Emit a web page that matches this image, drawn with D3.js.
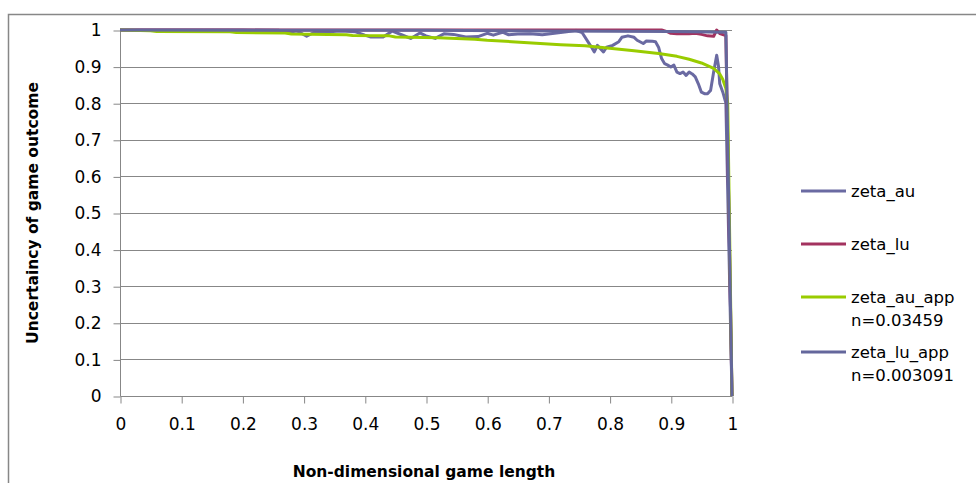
<!DOCTYPE html>
<html><head><meta charset="utf-8">
<script src="https://cdn.jsdelivr.net/npm/d3@7"></script>
<style>body{margin:0;background:#fff;overflow:hidden} text{font-family:"DejaVu Sans",sans-serif;fill:#000}</style>
</head><body><svg id="c" width="976" height="483"></svg>
<script>
const xTickValues = [0,0.1,0.2,0.3,0.4,0.5,0.6,0.7,0.8,0.9,1];
const xTickLabels = ["0","0.1","0.2","0.3","0.4","0.5","0.6","0.7","0.8","0.9","1"];
const yTickValues = [0,0.1,0.2,0.3,0.4,0.5,0.6,0.7,0.8,0.9,1];
const yTickLabels = ["0","0.1","0.2","0.3","0.4","0.5","0.6","0.7","0.8","0.9","1"];
const xTitle = "Non-dimensional game length";
const yTitle = "Uncertaincy of game outcome";

const seriesNames = ["zeta_au","zeta_lu","zeta_au_app","zeta_lu_app"];
const legendLines = [["zeta_au"],["zeta_lu"],["zeta_au_app","n=0.03459"],["zeta_lu_app","n=0.003091"]];
const seriesColors = ["#6a6aa2","#a3325f","#99cc00","#64679c"];

const zetaAuX = [0,0.1,0.2,0.26,0.28,0.29,0.305,0.32,0.33,0.36,0.385,0.4,0.41,0.43,0.445,0.46,0.475,0.49,0.5,0.515,0.53,0.545,0.565,0.585,0.6,0.61,0.625,0.635,0.65,0.67,0.69,0.71,0.73,0.745,0.755,0.77,0.775,0.78,0.79,0.795,0.805,0.815,0.82,0.83,0.84,0.845,0.855,0.86,0.87,0.875,0.88,0.885,0.89,0.895,0.9,0.905,0.91,0.915,0.92,0.925,0.93,0.935,0.94,0.945,0.95,0.955,0.96,0.965,0.97,0.975,0.978,0.98,0.985,0.99,1.0];
const zetaAuY = [1,1,1,0.999,0.995,0.997,0.983,0.996,0.994,0.997,0.995,0.986,0.981,0.981,0.997,0.987,0.977,0.992,0.984,0.977,0.99,0.988,0.981,0.982,0.991,0.986,0.994,0.987,0.989,0.99,0.987,0.991,0.995,0.999,0.993,0.954,0.94,0.958,0.94,0.953,0.958,0.968,0.98,0.984,0.98,0.972,0.963,0.97,0.969,0.968,0.953,0.922,0.908,0.904,0.899,0.904,0.885,0.881,0.885,0.876,0.885,0.88,0.872,0.853,0.83,0.826,0.826,0.835,0.885,0.931,0.9,0.853,0.83,0.8,0];

const zetaLuX = [0,0.5,0.885,0.895,0.9,0.91,0.93,0.94,0.95,0.96,0.97,0.975,0.98,0.99,1];
const zetaLuY = [1,1,1,0.995,0.991,0.99,0.99,0.991,0.988,0.984,0.983,1,0.99,0.985,0];

const zetaAuAppX = [0,0.05,0.06,0.18,0.19,0.27,0.28,0.37,0.38,0.44,0.45,0.52,0.58,0.6,0.64,0.68,0.72,0.76,0.8,0.84,0.88,0.91,0.93,0.95,0.97,0.98,0.985,0.99,0.993,1];
const zetaAuAppY = [1,0.998,0.996,0.995,0.993,0.992,0.989,0.987,0.985,0.984,0.981,0.979,0.975,0.972,0.968,0.964,0.96,0.957,0.95,0.943,0.936,0.928,0.92,0.91,0.895,0.88,0.865,0.84,0.8,0];

const zetaLuAppX = [0,0.5,0.7,0.9,0.99,1];
const zetaLuAppY = [1,0.999,0.997,0.996,0.994,0];

const seriesX = [zetaAuX, zetaLuX, zetaAuAppX, zetaLuAppX];
const seriesY = [zetaAuY, zetaLuY, zetaAuAppY, zetaLuAppY];

const svg = d3.select("#c");
const L = 120, R = 732, T = 30, B = 396;
const x = d3.scaleLinear().domain([0,1]).range([L,R]);
const y = d3.scaleLinear().domain([0,1]).range([B,T]);
const gray = "#878787";

// outer border
svg.append("path").attr("d","M8.5,490 V14.5 H990").attr("fill","none").attr("stroke",gray).attr("stroke-width",1.5);

// gridlines
svg.append("g").selectAll("line").data(yTickValues.filter(d=>d>0)).join("line")
  .attr("x1",L).attr("x2",R).attr("y1",d=>Math.round(y(d))+0.5).attr("y2",d=>Math.round(y(d))+0.5)
  .attr("stroke",gray).attr("stroke-width",1);

// y axis
const yAxis = d3.axisLeft(y).tickValues(yTickValues).tickFormat((d,i)=>yTickLabels[i]).tickSize(7).tickPadding(12);
const gy = svg.append("g").attr("transform",`translate(${L+0.5},0.5)`).call(yAxis);
gy.select(".domain").attr("stroke",gray).attr("d",`M0,${T}V${B}`);
gy.selectAll(".tick line").attr("stroke",gray);
gy.selectAll(".tick text").attr("font-size",17).attr("font-family","DejaVu Sans").attr("fill","#000");

// x axis
const xAxis = d3.axisBottom(x).tickValues(xTickValues).tickFormat((d,i)=>xTickLabels[i]).tickSize(7).tickPadding(14);
const gx = svg.append("g").attr("transform",`translate(0.5,${B+0.5})`).call(xAxis);
gx.select(".domain").attr("stroke",gray).attr("d",`M${L},0H${R}`);
gx.selectAll(".tick line").attr("stroke",gray);
gx.selectAll(".tick text").attr("font-size",17).attr("font-family","DejaVu Sans").attr("fill","#000");

// series
const line = d3.line().x(d=>x(d[0])).y(d=>y(d[1]));
seriesNames.forEach((name,i)=>{
  const pts = d3.zip(seriesX[i], seriesY[i]);
  svg.append("path").datum(pts).attr("d",line).attr("fill","none")
    .attr("stroke",seriesColors[i]).attr("stroke-width",3).attr("stroke-linejoin","round");
});

// axis titles
svg.append("text").attr("x",424).attr("y",477).attr("text-anchor","middle")
  .attr("font-size",15.5).attr("font-weight","bold").text(xTitle);
svg.append("text").attr("transform","translate(38,213) rotate(-90)").attr("text-anchor","middle")
  .attr("font-size",15.5).attr("font-weight","bold").text(yTitle);

// legend
const legendY = [191, 244, 297, 352];
const lg = svg.append("g");
seriesNames.forEach((name,i)=>{
  lg.append("line").attr("x1",801).attr("x2",846).attr("y1",legendY[i]).attr("y2",legendY[i])
    .attr("stroke",seriesColors[i]).attr("stroke-width",3);
  legendLines[i].forEach((t,j)=>{
    lg.append("text").attr("x",851).attr("y",legendY[i]+6+j*23).attr("font-size",16.5).text(t);
  });
});
</script></body></html>
